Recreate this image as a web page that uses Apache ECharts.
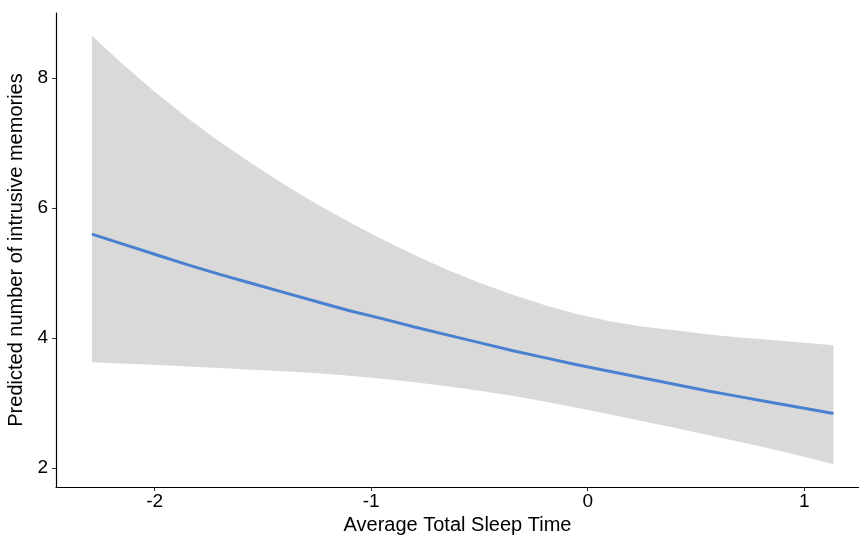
<!DOCTYPE html>
<html>
<head>
<meta charset="utf-8">
<script src="https://cdn.jsdelivr.net/npm/echarts@6/dist/echarts.min.js"></script>
<style>
  html, body { margin: 0; padding: 0; background: #fff; }
  #chart { width: 859px; height: 535px; }
</style>
</head>
<body>
<div id="chart"></div>
<script>
// x positions (Average Total Sleep Time)
const sleepTime = [-2.29, -2.15, -2.0, -1.85, -1.7, -1.55, -1.4, -1.25, -1.1, -0.95, -0.8, -0.65,
                   -0.5, -0.35, -0.2, -0.05, 0.1, 0.25, 0.4, 0.55, 0.7, 0.85, 1.0, 1.135];
// predicted number of intrusive memories
const predicted = [5.60, 5.45, 5.29, 5.13, 4.98, 4.84, 4.70, 4.56, 4.42, 4.30, 4.17, 4.05,
                   3.93, 3.81, 3.70, 3.59, 3.49, 3.39, 3.29, 3.19, 3.10, 3.01, 2.92, 2.84];
// confidence band
const upper = [8.65, 8.22, 7.79, 7.39, 7.02, 6.68, 6.36, 6.06, 5.78, 5.52, 5.28, 5.05,
               4.85, 4.67, 4.51, 4.37, 4.26, 4.18, 4.12, 4.06, 4.01, 3.97, 3.93, 3.89];
const lower = [3.63, 3.61, 3.59, 3.565, 3.54, 3.515, 3.49, 3.46, 3.42, 3.375, 3.32, 3.26,
               3.19, 3.115, 3.025, 2.93, 2.83, 2.725, 2.62, 2.515, 2.405, 2.295, 2.175, 2.06];
const xTicks = [-2, -1, 0, 1];
const yTicks = [2, 4, 6, 8];

const chart = echarts.init(document.getElementById('chart'));

const font = 'Liberation Sans, Arial, sans-serif';
const tickStyle = { color: '#333', width: 1 };

chart.setOption({
    animation: false,
    grid: { left: 56, right: 0, top: 13, bottom: 48, outerBoundsMode: 'none', containLabel: false },
    xAxis: {
        type: 'value',
        min: -2.456,
        max: 1.253,
        name: 'Average Total Sleep Time',
        nameLocation: 'middle',
        nameGap: 27,
        nameTextStyle: { color: '#000', fontSize: 20, fontFamily: font },
        axisLine: { show: true, onZero: false, lineStyle: { color: '#000', width: 1.2 } },
        axisTick: { show: true, length: 4, customValues: xTicks, lineStyle: tickStyle },
        axisLabel: { customValues: xTicks, color: '#000', fontSize: 19, fontFamily: font, margin: 5 },
        splitLine: { show: false }
    },
    yAxis: {
        type: 'value',
        min: 1.71,
        max: 9.0,
        name: 'Predicted number of intrusive memories',
        nameLocation: 'middle',
        nameGap: 25,
        nameTextStyle: { color: '#000', fontSize: 20, fontFamily: font },
        axisLine: { show: true, onZero: false, lineStyle: { color: '#000', width: 1.2 } },
        axisTick: { show: true, length: 4, customValues: yTicks, lineStyle: tickStyle },
        axisLabel: { customValues: yTicks, color: '#000', fontSize: 19, fontFamily: font, margin: 8 },
        splitLine: { show: false }
    },
    series: [
        {
            // ribbon between lower and upper, placed through the axis scales
            type: 'custom',
            data: sleepTime.map((x, i) => [x, lower[i], upper[i]]),
            encode: { x: 0, y: [1, 2] },
            renderItem: function (params, api) {
                if (params.dataIndex !== 0) return;
                const top = sleepTime.map((x, i) => api.coord([x, upper[i]]));
                const bottom = sleepTime.map((x, i) => api.coord([x, lower[i]])).reverse();
                return {
                    type: 'polygon',
                    shape: { points: top.concat(bottom) },
                    style: { fill: '#d9d9d9' }
                };
            },
            z: 1
        },
        {
            type: 'line',
            data: sleepTime.map((x, i) => [x, predicted[i]]),
            symbol: 'none',
            lineStyle: { color: '#4a80d0', width: 3 },
            z: 3
        }
    ]
});
</script>
</body>
</html>
